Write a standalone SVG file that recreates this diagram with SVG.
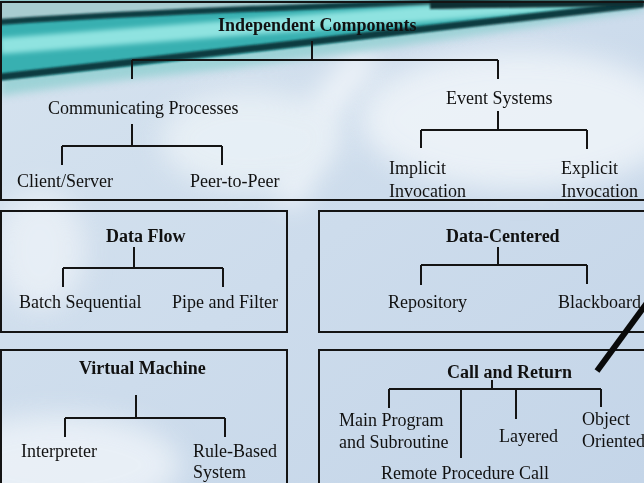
<svg xmlns="http://www.w3.org/2000/svg" width="644" height="483" viewBox="0 0 644 483">
  <style>
    .lbl { font-family: "Liberation Serif", "Times New Roman", serif; font-size: 18px; fill: #111; }
    .hd { font-family: "Liberation Serif", "Times New Roman", serif; font-size: 18px; font-weight: bold; fill: #111; }
    .box { fill: none; stroke: #141414; stroke-width: 2; }
    .wire { fill: none; stroke: #141414; stroke-width: 2; }
  </style>
  <defs>
    <linearGradient id="bg" x1="0" y1="0" x2="1" y2="1">
      <stop offset="0" stop-color="#d6e3ef"/>
      <stop offset="0.5" stop-color="#cddcec"/>
      <stop offset="1" stop-color="#c4d5e8"/>
    </linearGradient>
    <filter id="soft" x="-50%" y="-50%" width="200%" height="200%">
      <feGaussianBlur stdDeviation="14"/>
    </filter>
    <filter id="softM" x="-20%" y="-50%" width="140%" height="200%">
      <feGaussianBlur stdDeviation="4"/>
    </filter>
    <filter id="softS" x="-20%" y="-50%" width="140%" height="200%">
      <feGaussianBlur stdDeviation="2.5"/>
    </filter>
    <filter id="softT" x="-20%" y="-50%" width="140%" height="200%">
      <feGaussianBlur stdDeviation="1.3"/>
    </filter>
    <clipPath id="topClip">
      <rect x="0" y="0" width="644" height="200"/>
    </clipPath>
  </defs>

  <!-- backdrop -->
  <rect x="0" y="0" width="644" height="483" fill="url(#bg)"/>
  <g opacity="0.75">
    <ellipse cx="520" cy="120" rx="160" ry="70" fill="#f4f8fb" filter="url(#soft)"/>
    <path d="M290,205 Q300,120 370,55" stroke="#ffffff" stroke-width="26" fill="none" filter="url(#soft)"/>
    <ellipse cx="60" cy="465" rx="120" ry="50" fill="#f2f6fa" filter="url(#soft)"/>
    <ellipse cx="40" cy="250" rx="45" ry="60" fill="#eef3f8" filter="url(#soft)"/>
    <ellipse cx="250" cy="140" rx="90" ry="50" fill="#eef4f8" filter="url(#soft)"/>
  </g>

  <!-- teal swoosh across the upper panel -->
  <g clip-path="url(#topClip)">
    <path d="M0,0 H644 V10 C560,22 430,44 215,70 C120,80 50,88 0,96 Z" fill="#8fcfd0" opacity="0.8" filter="url(#softM)"/>
    <path d="M0,0 H644 V2 C450,30 200,60 0,80 Z" fill="#37b0b1" filter="url(#softT)"/>
    <path d="M0,0 H520 C300,6 120,14 0,22 Z" fill="#a8ccd0" filter="url(#softT)"/>
    <path d="M0,22 C120,14 300,6 520,0" stroke="#0f3d42" stroke-width="6" fill="none" filter="url(#softT)"/>
    <path d="M0,46 C150,36 350,18 600,0" stroke="#8fe3e0" stroke-width="16" fill="none" filter="url(#softS)"/>
    <path d="M0,77 C160,60 380,32 644,4" stroke="#0d3a3f" stroke-width="7" fill="none" filter="url(#softT)"/>
    <path d="M430,0 H644 V6 C560,7 500,8 430,9 Z" fill="#0e2f33" filter="url(#softT)"/>
  </g>

  <!-- panels -->
  <g id="panels">
    <rect id="panel-independent" class="box" x="1" y="2" width="660" height="198"/>
    <rect id="panel-dataflow" class="box" x="1" y="211" width="286" height="121"/>
    <rect id="panel-datacentered" class="box" x="319" y="211" width="340" height="121"/>
    <rect id="panel-vm" class="box" x="1" y="350" width="286" height="150"/>
    <rect id="panel-callreturn" class="box" x="319" y="350" width="340" height="150"/>
  </g>

  <!-- tree connectors -->
  <g id="connectors" class="wire">
    <path d="M312,41 V60 M132,60 H498 M132,60 V79 M498,60 V79"/>
    <path d="M132,124 V146 M62,146 H222 M62,146 V165 M222,146 V165"/>
    <path d="M498,111 V130 M421,130 H587 M421,130 V148 M587,130 V149"/>
    <path d="M134,247 V268 M63,268 H223 M63,268 V287 M223,268 V287"/>
    <path d="M498,247 V265 M421,265 H587 M421,265 V285 M587,265 V284"/>
    <path d="M136,395 V418 M65,418 H225 M65,418 V437 M225,418 V437"/>
    <path d="M492,380 V389 M389,389 H601 M389,389 V408 M461,389 V458 M516,389 V419 M601,389 V407"/>
  </g>

  <!-- nodes -->
  <g id="n-independent"><text class="hd" x="218" y="31">Independent Components</text></g>
  <g id="n-communicating"><text class="lbl" x="48" y="114">Communicating Processes</text></g>
  <g id="n-event"><text class="lbl" x="446" y="104">Event Systems</text></g>
  <g id="n-clientserver"><text class="lbl" x="17" y="187">Client/Server</text></g>
  <g id="n-p2p"><text class="lbl" x="190" y="187">Peer-to-Peer</text></g>
  <g id="n-implicit"><text class="lbl" x="389" y="174">Implicit</text><text class="lbl" x="389" y="197">Invocation</text></g>
  <g id="n-explicit"><text class="lbl" x="561" y="174">Explicit</text><text class="lbl" x="561" y="197">Invocation</text></g>

  <g id="n-dataflow"><text class="hd" x="106" y="242">Data Flow</text></g>
  <g id="n-batch"><text class="lbl" x="19" y="308">Batch Sequential</text></g>
  <g id="n-pipe"><text class="lbl" x="172" y="308">Pipe and Filter</text></g>

  <g id="n-datacentered"><text class="hd" x="446" y="242">Data-Centered</text></g>
  <g id="n-repository"><text class="lbl" x="388" y="308">Repository</text></g>
  <g id="n-blackboard"><text class="lbl" x="558" y="308">Blackboard</text></g>

  <g id="n-vm"><text class="hd" x="79" y="374">Virtual Machine</text></g>
  <g id="n-interpreter"><text class="lbl" x="21" y="457">Interpreter</text></g>
  <g id="n-rulebased"><text class="lbl" x="193" y="457">Rule-Based</text><text class="lbl" x="193" y="478">System</text></g>

  <g id="n-callreturn"><text class="hd" x="447" y="378">Call and Return</text></g>
  <g id="n-mainprog"><text class="lbl" x="339" y="426">Main Program</text><text class="lbl" x="339" y="448">and Subroutine</text></g>
  <g id="n-layered"><text class="lbl" x="499" y="442">Layered</text></g>
  <g id="n-object"><text class="lbl" x="582" y="425">Object</text><text class="lbl" x="582" y="447">Oriented</text></g>
  <g id="n-rpc"><text class="lbl" x="381" y="479">Remote Procedure Call</text></g>

  <!-- pointer stroke -->
  <line x1="597" y1="371" x2="652" y2="296" stroke="#0a0a0a" stroke-width="6"/>
</svg>
